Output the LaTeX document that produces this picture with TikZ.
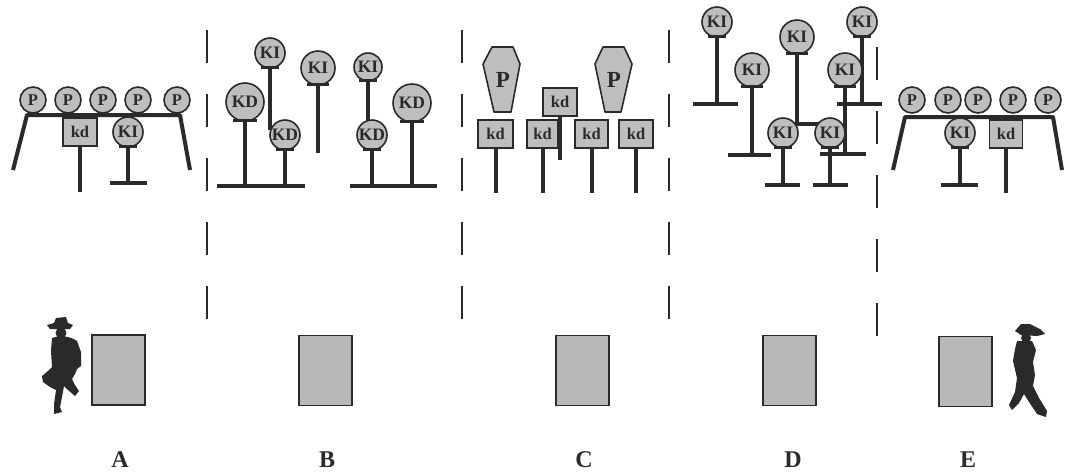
\documentclass[tikz,border=0pt]{standalone}
\usepackage{fontspec}
\setmainfont{Liberation Serif}
\usetikzlibrary{backgrounds}

\definecolor{ink}{HTML}{2A2A2A}
\definecolor{signfill}{HTML}{BEBEBE}
\definecolor{boardfill}{HTML}{B8B8B8}

\tikzset{
  rsign/.style={circle, draw=ink, line width=1.6pt, fill=signfill, inner sep=0pt,
    text=ink, font=\bfseries\fontsize{17.5pt}{17.5pt}\selectfont},
  psign/.style={rsign, minimum size=26pt, font=\bfseries\fontsize{16.5pt}{16.5pt}\selectfont},
  sqsign/.style={rectangle, draw=ink, line width=1.6pt, fill=signfill, inner sep=0pt,
    minimum width=34pt, minimum height=28pt, text=ink,
    font=\bfseries\fontsize{16.5pt}{16.5pt}\selectfont},
  coffin/.style={draw=ink, line width=1.6pt, fill=signfill, line join=round},
  bigp/.style={text=ink, inner sep=0pt, font=\bfseries\fontsize{23pt}{23pt}\selectfont},
  post/.style={draw=ink, line width=4pt},
  bar/.style={draw=ink, line width=4.5pt},
  frame/.style={draw=ink, line width=4pt, line join=round},
  divider/.style={draw=ink, line width=2pt, dash pattern=on 33pt off 31pt},
  board/.style={draw=ink, line width=1.6pt, fill=boardfill, inner sep=0pt,
    minimum width=53pt, minimum height=70pt},
  letter/.style={text=ink, inner sep=0pt, anchor=base,
    font=\bfseries\fontsize{24pt}{24pt}\selectfont},
  figure/.style={fill=ink}
}

% round sign sitting on a small dark plate: name, x, y, radius, text
\newcommand\roundsign[5]{%
  \node[rsign, minimum size={2*#4pt}] (#1) at (#2,#3) {#5};
  \fill[ink] ({#2-0.62*#4},{#3+#4-2.5}) rectangle ({#2+0.62*#4},{#3+#4+1.2});
}

\begin{document}
\begin{tikzpicture}[x=1pt, y=-1pt]
\useasboundingbox (0,0) rectangle (1070,475);

% ---------- section dividers ----------
\coordinate (d1t) at (207,30);  \coordinate (d1b) at (207,322);
\coordinate (d2t) at (462,30);  \coordinate (d2b) at (462,322);
\coordinate (d3t) at (669,30);  \coordinate (d3b) at (669,322);
\coordinate (d4t) at (877,47);  \coordinate (d4b) at (877,339);
\draw[divider] (d1t) -- (d1b);
\draw[divider] (d2t) -- (d2b);
\draw[divider] (d3t) -- (d3b);
\draw[divider] (d4t) -- (d4b);

% ---------- A ----------
\foreach \i/\x in {1/33,2/68,3/103,4/138,5/177}
  \node[psign] (aP\i) at (\x,100) {P};
\node[sqsign] (akd) at (80,132) {kd};
\roundsign{aKI}{128}{132}{15}{KI}
\coordinate (aL) at (27,115);  \coordinate (aR) at (180,115);
\coordinate (aLf) at (13,170); \coordinate (aRf) at (190,170);
\coordinate (akdF) at (80,192);
\coordinate (aKIF) at (128,183);
\coordinate (aTl) at (110,183); \coordinate (aTr) at (147,183);

% ---------- B ----------
\roundsign{bKI1}{270}{53}{15}{KI}
\roundsign{bKD1}{245}{102}{19}{KD}
\roundsign{bKD2}{285}{135}{15}{KD}
\roundsign{bKI2}{318}{68}{17}{KI}
\roundsign{bKI3}{368}{67}{14}{KI}
\roundsign{bKD3}{372}{135}{15}{KD}
\roundsign{bKD4}{412}{103}{19}{KD}
\coordinate (bKI1F) at (270,130);
\coordinate (bKD1F) at (245,186);
\coordinate (bKD2F) at (285,186);
\coordinate (bKI2F) at (318,153);
\coordinate (bKI3F) at (368,132);
\coordinate (bKD3F) at (372,186);
\coordinate (bKD4F) at (412,186);
\coordinate (bB1l) at (217,186); \coordinate (bB1r) at (305,186);
\coordinate (bB2l) at (350,186); \coordinate (bB2r) at (437,186);

% ---------- C ----------
\draw[coffin] (492,47) -- (513,47) -- (520,64) -- (511,112) -- (494,112) -- (483,64) -- cycle;
\node[bigp] (cP1) at (503,80) {P};
\draw[coffin] (603,47) -- (624,47) -- (632,64) -- (621,112) -- (605,112) -- (595,64) -- cycle;
\node[bigp] (cP2) at (614,80) {P};
\node[sqsign, minimum width=35pt] (ckd1) at (495.5,134) {kd};
\node[sqsign, minimum width=31pt] (ckd2) at (542.5,134) {kd};
\node[sqsign, minimum width=33pt] (ckd3) at (591.5,134) {kd};
\node[sqsign, minimum width=34pt] (ckd4) at (636,134) {kd};
\node[sqsign, minimum width=34pt] (ckd5) at (560,102) {kd};
\coordinate (ckd1F) at (495.5,193);
\coordinate (ckd2F) at (542.5,193);
\coordinate (ckd3F) at (591.5,193);
\coordinate (ckd4F) at (636,193);
\coordinate (ckd5F) at (560,160);

% ---------- D ----------
\roundsign{dKI1}{717}{22}{15}{KI}
\roundsign{dKI2}{752}{70}{17}{KI}
\roundsign{dKI3}{797}{37}{17}{KI}
\roundsign{dKI4}{862}{22}{15}{KI}
\roundsign{dKI5}{845}{70}{17}{KI}
\roundsign{dKI6}{783}{133}{15}{KI}
\roundsign{dKI7}{830}{133}{15}{KI}
\coordinate (dKI1F) at (717,104); \coordinate (dT1l) at (693,104); \coordinate (dT1r) at (738,104);
\coordinate (dKI2F) at (752,155); \coordinate (dT2l) at (728,155); \coordinate (dT2r) at (771,155);
\coordinate (dKI3F) at (797,124); \coordinate (dKI3E) at (826,124);
\coordinate (dKI4F) at (862,104); \coordinate (dT4l) at (837,104); \coordinate (dT4r) at (882,104);
\coordinate (dKI5F) at (845,154); \coordinate (dT5l) at (820,154); \coordinate (dT5r) at (866,154);
\coordinate (dKI6F) at (783,185); \coordinate (dT6l) at (765,185); \coordinate (dT6r) at (800,185);
\coordinate (dKI7F) at (830,185); \coordinate (dT7l) at (813,185); \coordinate (dT7r) at (848,185);

% ---------- E ----------
\foreach \i/\x in {1/912,2/948,3/978,4/1013,5/1048}
  \node[psign] (eP\i) at (\x,100) {P};
\roundsign{eKI}{960}{133}{15}{KI}
\node[sqsign, minimum width=33pt] (ekd) at (1006,134) {kd};
\coordinate (eL) at (905,117);  \coordinate (eR) at (1053,117);
\coordinate (eLf) at (893,170); \coordinate (eRf) at (1062,170);
\coordinate (eKIF) at (960,185);
\coordinate (eTl) at (941,185); \coordinate (eTr) at (978,185);
\coordinate (ekdF) at (1006,193);

% ---------- posts, bars and frames behind the signs ----------
\begin{scope}[on background layer]
  \draw[frame] (aLf) -- (aL) -- (aR) -- (aRf);
  \draw[post] (akd.south) -- (akdF);
  \draw[post] (aKI.south) -- (aKIF);
  \draw[bar] (aTl) -- (aTr);

  \foreach \n in {bKI1,bKD1,bKD2,bKI2,bKI3,bKD3,bKD4}
    \draw[post] (\n.south) -- (\n F);
  \draw[bar] (bB1l) -- (bB1r);
  \draw[bar] (bB2l) -- (bB2r);

  \foreach \n in {ckd1,ckd2,ckd3,ckd4,ckd5}
    \draw[post] (\n.south) -- (\n F);

  \foreach \n in {dKI1,dKI2,dKI4,dKI5,dKI6,dKI7}
    \draw[post] (\n.south) -- (\n F);
  \draw[post] (dKI3.south) -- (dKI3F) -- (dKI3E);
  \foreach \t in {1,2,4,5,6,7}
    \draw[bar] (dT\t l) -- (dT\t r);

  \draw[frame] (eLf) -- (eL) -- (eR) -- (eRf);
  \draw[post] (eKI.south) -- (eKIF);
  \draw[bar] (eTl) -- (eTr);
  \draw[post] (ekd.south) -- (ekdF);
\end{scope}

% ---------- boards ----------
\node[board] (boardA) at (118.5,370) {};
\node[board] (boardB) at (325.5,370.5) {};
\node[board] (boardC) at (582.5,370.5) {};
\node[board] (boardD) at (789.5,370.5) {};
\node[board] (boardE) at (965.5,371.5) {};

% ---------- labels ----------
\node[letter] (labA) at (120,467) {A};
\node[letter] (labB) at (327,467) {B};
\node[letter] (labC) at (584,467) {C};
\node[letter] (labD) at (793,467) {D};
\node[letter] (labE) at (968,467) {E};

% ---------- figures ----------
% standing cowboy, one leg bent
\fill[figure] (54,323) -- (56,318) -- (66,317) -- (68,323) -- (73,325) -- (70,329) -- (50,329) -- (47,325) -- cycle;
\fill[figure] (61,333) circle (5.5);
\fill[figure] (52,338) .. controls (60,335) and (70,336) .. (77,341)
  -- (81,352) -- (81,366) -- (77,369) -- (75,374) -- (72,379) -- (75,385) -- (79,391)
  -- (75,396) -- (68,390) -- (64,386) -- (62,397) -- (60,407) -- (62,412) -- (54,414)
  -- (54,404) -- (56,390) -- (50,387) -- (43,382) -- (42,376) -- (48,371) -- (52,367)
  -- (51,351) -- cycle;
% walking figure
\fill[figure] (1015,331) -- (1021,324) -- (1030,324) -- (1040,329) -- (1045,334) -- (1037,336) -- (1021,335) -- cycle;
\fill[figure] (1026,338) circle (5);
\fill[figure] (1017,341) -- (1032,341) -- (1036,350) -- (1033,362) -- (1035,375) -- (1033,386)
  -- (1039,398) -- (1047,411) -- (1046,417) -- (1037,414) -- (1029,402) -- (1024,394)
  -- (1019,403) -- (1012,410) -- (1009,405) -- (1015,392) -- (1017,378) -- (1013,361)
  -- (1015,349) -- cycle;

\end{tikzpicture}
\end{document}
